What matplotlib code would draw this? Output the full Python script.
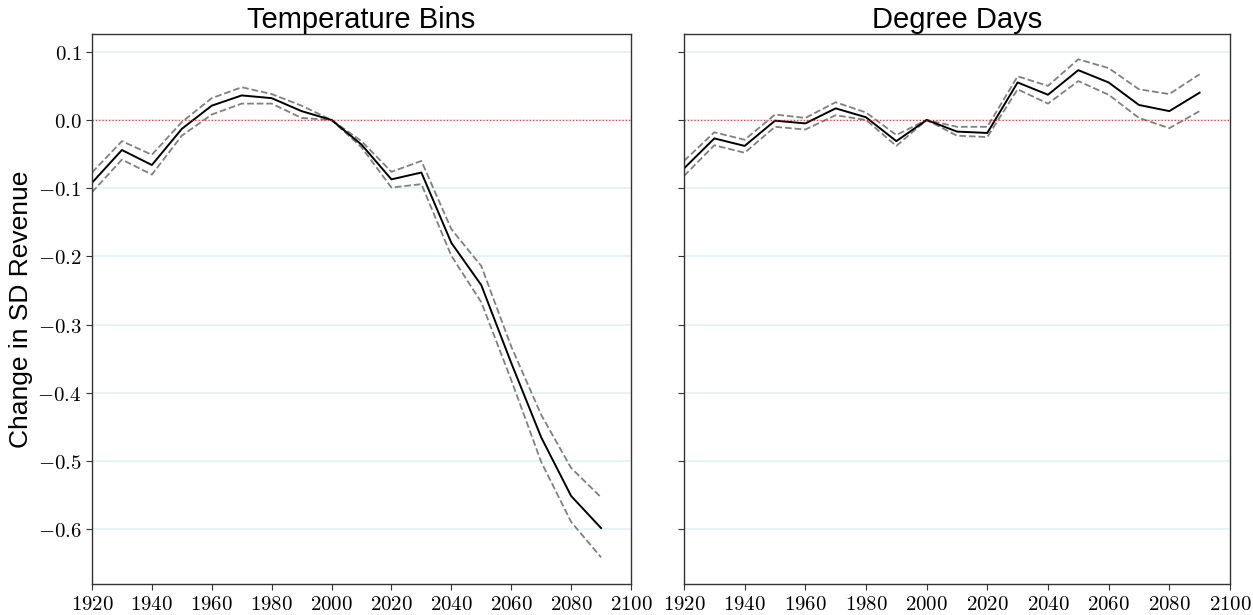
import numpy as np
import matplotlib
matplotlib.use("Agg")
import matplotlib.pyplot as plt
import matplotlib.ticker as mticker

plt.rcParams["mathtext.fontset"] = "cm"

# ── dane ──────────────────────────────────────────────────────────────────────
years = [1920, 1930, 1940, 1950, 1960, 1970, 1980, 1990, 2000,
         2010, 2020, 2030, 2040, 2050, 2060, 2070, 2080, 2090]

bins_est = [-0.092, -0.044, -0.066, -0.013, 0.021, 0.036, 0.032, 0.013, 0.0,
            -0.036, -0.087, -0.077, -0.180, -0.242, -0.356, -0.465, -0.551, -0.598]
bins_hi = [-0.077, -0.031, -0.051, -0.003, 0.032, 0.048, 0.038, 0.021, 0.0,
           -0.031, -0.076, -0.060, -0.160, -0.214, -0.332, -0.432, -0.510, -0.553]
bins_lo = [-0.106, -0.058, -0.080, -0.023, 0.008, 0.024, 0.024, 0.003, 0.0,
           -0.040, -0.099, -0.094, -0.199, -0.267, -0.381, -0.501, -0.589, -0.641]

dd_est = [-0.071, -0.027, -0.038, -0.001, -0.005, 0.017, 0.004, -0.031, 0.0,
          -0.017, -0.019, 0.055, 0.037, 0.073, 0.055, 0.022, 0.013, 0.040]
dd_hi = [-0.060, -0.018, -0.029, 0.008, 0.003, 0.026, 0.011, -0.022, 0.0,
         -0.010, -0.010, 0.064, 0.050, 0.089, 0.076, 0.045, 0.038, 0.067]
dd_lo = [-0.082, -0.037, -0.048, -0.010, -0.014, 0.007, 0.000, -0.038, 0.0,
         -0.023, -0.025, 0.045, 0.024, 0.057, 0.037, 0.003, -0.012, 0.013]

panels = [
    ("Temperature Bins", bins_est, bins_hi, bins_lo),
    ("Degree Days", dd_est, dd_hi, dd_lo),
]

# ── wykres ────────────────────────────────────────────────────────────────────
fig = plt.figure(figsize=(12.53, 6.15), dpi=100)
ax1 = fig.add_axes([0.0734, 0.0504, 0.4302, 0.8943])
ax2 = fig.add_axes([0.5459, 0.0504, 0.4357, 0.8943], sharey=ax1)

sans = ["Liberation Sans", "DejaVu Sans"]

for ax, (title, est, hi, lo) in zip([ax1, ax2], panels):
    ax.plot(years, hi, color="gray", linestyle="--", linewidth=1.3)
    ax.plot(years, lo, color="gray", linestyle="--", linewidth=1.3)
    ax.plot(years, est, color="black", linewidth=1.4)
    ax.axhline(0, color="red", linestyle=":", linewidth=0.9, alpha=0.8)

    ax.set_title(title, fontsize=21, family=sans, pad=4)
    ax.set_xlim(1920, 2100)
    ax.set_xticks(range(1920, 2101, 20))
    ax.xaxis.set_major_formatter(mticker.FuncFormatter(lambda v, p: f"${v:.0f}$"))
    ax.yaxis.set_major_locator(mticker.MultipleLocator(0.1))
    ax.yaxis.grid(True, color="#e3f3f6", linewidth=1.3)
    ax.set_axisbelow(True)
    ax.tick_params(labelsize=15, length=4, width=0.8, color="#333333")
    for sp in ax.spines.values():
        sp.set_color("#333333")
        sp.set_linewidth(1.0)

ax1.set_ylim(-0.68, 0.126)
ax1.yaxis.set_major_formatter(mticker.FuncFormatter(lambda v, p: f"${v:.1f}$"))
ax1.set_ylabel("Change in SD Revenue", fontsize=19, family=sans, labelpad=3)
ax2.tick_params(labelleft=False)

plt.savefig("out.png", dpi=100)
plt.close()
